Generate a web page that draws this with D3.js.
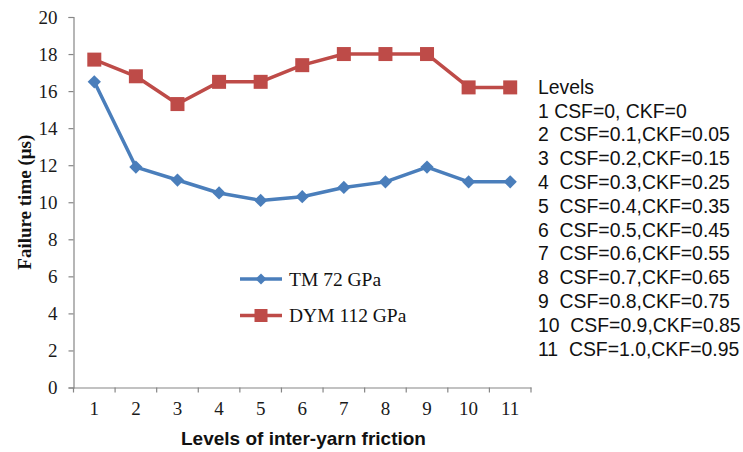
<!DOCTYPE html>
<html><head><meta charset="utf-8">
<script src="https://cdn.jsdelivr.net/npm/d3@7"></script>
<style>body{margin:0;background:#fff}</style>
</head><body>
<svg id="c" width="743" height="452"></svg>
<script>
const levels = ["1","2","3","4","5","6","7","8","9","10","11"];
const tmValues = [16.5, 11.9, 11.2, 10.5, 10.1, 10.3, 10.8, 11.1, 11.9, 11.1, 11.1];
const dymValues = [17.7, 16.8, 15.3, 16.5, 16.5, 17.4, 18.0, 18.0, 18.0, 16.2, 16.2];
const seriesNames = ["TM 72 GPa", "DYM 112 GPa"];
const yTicks = [0,2,4,6,8,10,12,14,16,18,20];
const levelNotes = ["Levels","1 CSF=0, CKF=0","2  CSF=0.1,CKF=0.05","3  CSF=0.2,CKF=0.15","4  CSF=0.3,CKF=0.25","5  CSF=0.4,CKF=0.35","6  CSF=0.5,CKF=0.45","7  CSF=0.6,CKF=0.55","8  CSF=0.7,CKF=0.65","9  CSF=0.8,CKF=0.75","10  CSF=0.9,CKF=0.85","11  CSF=1.0,CKF=0.95"];

(function(){
const svg = d3.select("#c");
const mLeft = 73.5, mRight = 531, mTop = 17, mBottom = 387.5;
const x = d3.scaleBand().domain(levels).range([mLeft, mRight]);
const y = d3.scaleLinear().domain([0,20]).range([mBottom, mTop]);
const axisColor = "#868686";
const serif = "'Liberation Serif','Times New Roman',serif";
const sans = "'Liberation Sans',Arial,sans-serif";

// Y axis
const ya = svg.append("g").attr("transform",`translate(${mLeft},0)`)
  .call(d3.axisLeft(y).tickValues(yTicks).tickSize(5).tickPadding(11).tickFormat(d3.format("d")));
ya.select(".domain").attr("stroke",axisColor).attr("stroke-width",1.2);
ya.selectAll(".tick line").attr("stroke",axisColor).attr("stroke-width",1.2);
ya.selectAll("text").attr("font-family",serif).attr("font-size",19).attr("fill","#1a1a1a");

// X axis
const xa = svg.append("g").attr("transform",`translate(0,${mBottom})`)
  .call(d3.axisBottom(x).tickSize(0).tickPadding(14));
xa.select(".domain").attr("stroke",axisColor).attr("stroke-width",1.2);
xa.selectAll("text").attr("font-family",serif).attr("font-size",19).attr("fill","#1a1a1a");
const bounds = levels.map(d=>x(d)).concat([x(levels[levels.length-1])+x.bandwidth()]);
svg.append("g").selectAll("line").data(bounds).join("line")
  .attr("x1",d=>d).attr("x2",d=>d).attr("y1",mBottom).attr("y2",mBottom+5)
  .attr("stroke",axisColor).attr("stroke-width",1.2);

const cx = d => x(d) + x.bandwidth()/2;
const blue = "#4a7ebb", red = "#be4b48";
const line = d3.line().x((d,i)=>cx(levels[i])).y(d=>y(d));

svg.append("path").datum(tmValues).attr("d",line).attr("fill","none").attr("stroke",blue).attr("stroke-width",3.5).attr("stroke-linejoin","round");
svg.append("path").datum(dymValues).attr("d",line).attr("fill","none").attr("stroke",red).attr("stroke-width",3.5).attr("stroke-linejoin","round");

svg.append("g").selectAll("path").data(tmValues).join("path")
  .attr("d",d3.symbol().type(d3.symbolSquare).size(88)())
  .attr("transform",(d,i)=>`translate(${cx(levels[i])},${y(d)}) rotate(45)`)
  .attr("fill",blue);
svg.append("g").selectAll("rect").data(dymValues).join("rect")
  .attr("x",(d,i)=>cx(levels[i])-7).attr("y",d=>y(d)-7)
  .attr("width",14).attr("height",14).attr("fill",red);

// axis titles
svg.append("text").attr("transform",`translate(24,${(mTop+mBottom)/2}) rotate(-90)`)
  .attr("text-anchor","middle").attr("dy","0.35em").attr("font-family",serif).attr("font-weight","bold")
  .attr("font-size",19).attr("fill","#111").text("Failure time (μs)");
svg.append("text").attr("x",303.5).attr("y",438).attr("dy","0.35em")
  .attr("text-anchor","middle").attr("font-family",sans).attr("font-weight","bold")
  .attr("font-size",19).attr("fill","#111").text("Levels of inter-yarn friction");

// legend
const leg = svg.append("g");
[[blue,"diamond"],[red,"square"]].forEach((c,i)=>{
  const ly = 279 + i*36.5;
  leg.append("line").attr("x1",240).attr("x2",282).attr("y1",ly).attr("y2",ly).attr("stroke",c[0]).attr("stroke-width",3.5);
  if(c[1]==="diamond"){
    leg.append("path").attr("d",d3.symbol().type(d3.symbolSquare).size(60)()).attr("transform",`translate(261,${ly}) rotate(45)`).attr("fill",c[0]);
  } else {
    leg.append("rect").attr("x",254.5).attr("y",ly-6.5).attr("width",13).attr("height",13).attr("fill",c[0]);
  }
  leg.append("text").attr("x",289).attr("y",ly).attr("dy","0.35em").attr("font-family",serif).attr("font-size",19.5).attr("fill","#111").text(seriesNames[i]);
});

// level notes
svg.append("g").selectAll("text").data(levelNotes).join("text")
  .attr("x",538).attr("y",(d,i)=>87 + i*23.8).attr("dy","0.35em")
  .attr("font-family",sans).attr("font-size",19.4).attr("fill","#111")
  .attr("xml:space","preserve").style("white-space","pre").text(d=>d);
})();
</script>
</body></html>
